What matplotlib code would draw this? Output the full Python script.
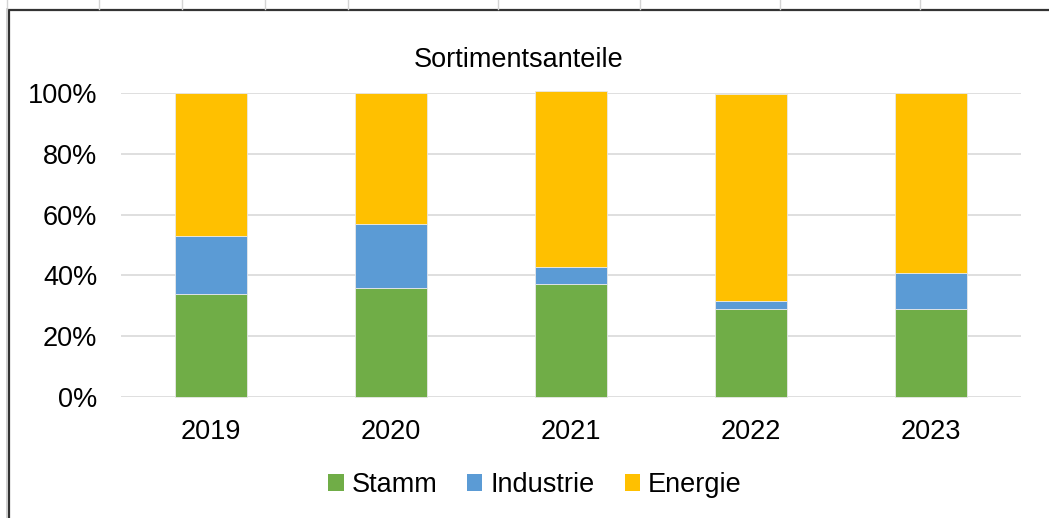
import matplotlib.pyplot as plt
from matplotlib.ticker import PercentFormatter
from matplotlib.patches import Rectangle, Patch
from matplotlib.lines import Line2D

plt.rcParams['font.family'] = ['Liberation Sans', 'DejaVu Sans']

years = ['2019', '2020', '2021', '2022', '2023']
stamm = [0.340, 0.360, 0.371, 0.291, 0.291]
industrie = [0.189, 0.209, 0.057, 0.026, 0.117]
energie = [0.471, 0.431, 0.578, 0.681, 0.592]

series = [('Stamm', stamm, '#70AD47'),
          ('Industrie', industrie, '#5B9BD5'),
          ('Energie', energie, '#FFC000')]

W, H = 1049, 518
FS = 19.5
fig = plt.figure(figsize=(W / 100, H / 100), dpi=100)

# spreadsheet cell lines above the chart object
for xp in [7, 99, 182, 265, 348, 498, 640, 780, 920]:
    fig.add_artist(Line2D([xp / W, xp / W], [1, 1 - 9 / H], color='#D4D4D4', lw=1))
fig.add_artist(Line2D([7 / W, 7 / W], [0, 1 - 9 / H], color='#C8C8C8', lw=1.2))
# chart frame, cut at right and bottom
fig.add_artist(Rectangle((8.5 / W, -0.05), 1.2, 1.05 - 10 / H, transform=fig.transFigure,
                         fill=False, edgecolor='#333333', lw=1.6))

ax = fig.add_axes([121 / W, 1 - 397 / H, 900 / W, 304 / H])
x = range(len(years))
bottom = [0.0] * len(years)
for name, vals, col in series:
    ax.bar(x, vals, width=0.405, bottom=bottom, color=col, edgecolor='#E8E8E8',
           linewidth=0.6, label=name, clip_on=False, zorder=3)
    bottom = [b + v for b, v in zip(bottom, vals)]

ax.set_xlim(-0.5, len(years) - 0.5)
ax.set_ylim(0, 1)
ax.set_yticks([0, 0.2, 0.4, 0.6, 0.8, 1.0])
ax.yaxis.set_major_formatter(PercentFormatter(1.0, decimals=0))
ax.set_xticks(list(x))
ax.set_xticklabels(years)
ax.tick_params(axis='both', length=0, labelsize=FS, colors='black')
ax.tick_params(axis='y', pad=17)
ax.tick_params(axis='x', pad=16)
ax.grid(axis='y', color='#D9D9D9', lw=1.2, zorder=0)
for s in ax.spines.values():
    s.set_visible(False)

fig.text(519 / W, 1 - 60 / H, 'Sortimentsanteile', ha='center', va='center', fontsize=FS)

handles = [Patch(facecolor=c, edgecolor='none') for _, _, c in series]
fig.legend(handles, [n for n, _, _ in series], loc='center', bbox_to_anchor=(535 / W, 1 - 485 / H),
           ncol=3, frameon=False, fontsize=FS, handlelength=0.56, handleheight=0.56,
           handletextpad=0.3, columnspacing=1.1)

fig.savefig('out.png', dpi=100, facecolor='white')
